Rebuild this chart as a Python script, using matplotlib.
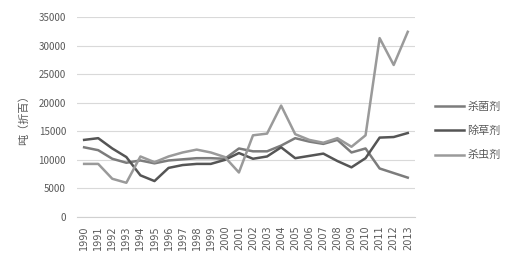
import matplotlib
matplotlib.use("Agg")
import matplotlib.pyplot as plt

plt.rcParams['font.family'] = ['Noto Sans CJK SC', 'DejaVu Sans']

years = [str(y) for y in range(1990, 2014)]
fungicide = [12200, 11700, 10200, 9500, 9900, 9400, 9900, 10100, 10300, 10300, 10200, 12000,
             11500, 11500, 12500, 13800, 13200, 12800, 13500, 11300, 12000, 8500, 7700, 6900]
herbicide = [13500, 13800, 12000, 10500, 7300, 6300, 8600, 9100, 9300, 9300, 10000, 11200,
             10200, 10600, 12200, 10300, 10700, 11100, 9800, 8700, 10300, 13900, 14000, 14700]
insecticide = [9300, 9300, 6700, 6000, 10600, 9600, 10600, 11300, 11800, 11300, 10500, 7800,
               14300, 14600, 19500, 14500, 13500, 13000, 13800, 12300, 14300, 31300, 26600, 32400]
labels = ['杀菌剂', '除草剂', '杀虫剂']
colors = ['#7c7c7c', '#555555', '#9a9a9a']

fig = plt.figure(figsize=(5.14, 2.69), dpi=100)
ax = fig.add_axes([0.15, 0.193, 0.657, 0.744])

x = range(len(years))
for vals, lab, col in zip([fungicide, herbicide, insecticide], labels, colors):
    ax.plot(x, vals, color=col, lw=1.8, label=lab)

ax.set_xlim(-0.5, len(years) - 0.5)
ax.set_ylim(0, 35000)
ax.set_yticks(range(0, 35001, 5000))
ax.set_xticks(list(x))
ax.set_xticklabels(years, rotation=90, fontsize=7, color='#595959', family='DejaVu Sans')
ax.tick_params(axis='y', labelsize=7, labelcolor='#595959', length=0, pad=8)
ax.tick_params(axis='x', length=0, pad=6)
ax.grid(axis='y', color='#d9d9d9', lw=0.8)
ax.set_axisbelow(True)
for s in ['top', 'right', 'left']:
    ax.spines[s].set_visible(False)
ax.spines['bottom'].set_color('#d0d0d0')
ax.set_ylabel('吨（折百）', fontsize=8, color='#595959', labelpad=7)

ax.legend(loc='center left', bbox_to_anchor=(1.03, 0.43), frameon=False, fontsize=8,
          handlelength=2.6, labelcolor='#595959', labelspacing=1.25, handletextpad=0.3)

fig.savefig('out.png', dpi=100)
